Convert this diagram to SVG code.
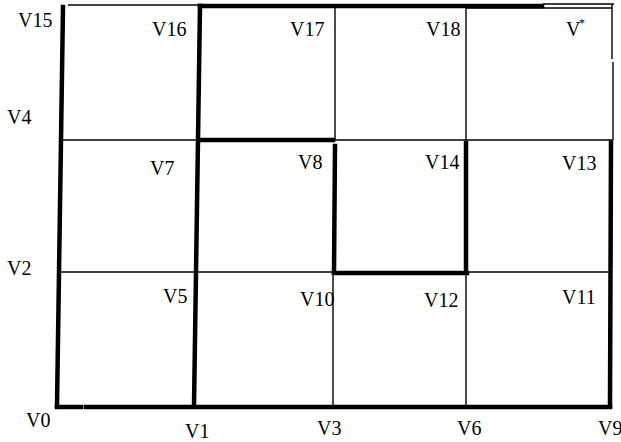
<svg xmlns="http://www.w3.org/2000/svg" width="621" height="442" viewBox="0 0 621 442">
<style>
text{font-family:'Liberation Serif','DejaVu Serif','Times New Roman',serif;fill:#000}
.t{font-size:20px}
.s{font-size:12px}
.thin{stroke:#000;stroke-width:1.4;fill:none}
.thick{stroke:#000;stroke-width:4.5;fill:none;stroke-linecap:square}
</style>
<rect width="621" height="442" fill="#fff"/>
<g id="connectors">
  <line class="thin" x1="68" y1="5" x2="200" y2="5"/>
  <line class="thin" x1="543" y1="4" x2="614" y2="4"/>
  <line class="thin" x1="466" y1="8" x2="612" y2="8"/>
  <line class="thin" x1="612" y1="4" x2="612" y2="59"/>
  <line class="thin" x1="613" y1="62" x2="613" y2="140"/>
  <line class="thin" x1="62" y1="140" x2="612" y2="140"/>
  <line class="thin" x1="61" y1="272" x2="612" y2="272"/>
  <line class="thin" x1="335" y1="5" x2="335" y2="140"/>
  <line class="thin" x1="333" y1="272" x2="333" y2="407"/>
  <line class="thin" x1="466" y1="5" x2="466" y2="140"/>
  <line class="thin" x1="466" y1="272" x2="466" y2="407"/>
  <line class="thick" x1="63" y1="7" x2="57" y2="406"/>
  <line class="thick" x1="57" y1="407" x2="81" y2="407"/>
  <line class="thick" x1="86" y1="407" x2="610" y2="407"/>
  <line class="thick" x1="611" y1="142" x2="610" y2="406"/>
  <line class="thick" x1="200" y1="6" x2="542" y2="6"/>
  <line class="thick" x1="200" y1="6" x2="194" y2="406"/>
  <line class="thick" x1="200" y1="140" x2="333" y2="140"/>
  <line class="thick" x1="335" y1="146" x2="334" y2="272"/>
  <line class="thick" x1="334" y1="273" x2="467" y2="273"/>
  <line class="thick" x1="466" y1="143" x2="466" y2="272"/>
</g>
<g id="V15"><text class="t" x="18" y="27">V15</text></g>
<g id="V16"><text class="t" x="152" y="36">V16</text></g>
<g id="V17"><text class="t" x="290" y="36">V17</text></g>
<g id="V18"><text class="t" x="426" y="36">V18</text></g>
<g id="Vstar"><text class="t" x="566" y="36">V</text><text class="s" x="579" y="27">*</text></g>
<g id="V4"><text class="t" x="7" y="124">V4</text></g>
<g id="V7"><text class="t" x="150" y="175">V7</text></g>
<g id="V8"><text class="t" x="298" y="169">V8</text></g>
<g id="V14"><text class="t" x="425" y="169">V14</text></g>
<g id="V13"><text class="t" x="562" y="170">V13</text></g>
<g id="V2"><text class="t" x="7" y="275">V2</text></g>
<g id="V5"><text class="t" x="163" y="303">V5</text></g>
<g id="V10"><text class="t" x="300" y="306">V10</text></g>
<g id="V12"><text class="t" x="424" y="307">V12</text></g>
<g id="V11"><text class="t" x="562" y="304">V11</text></g>
<g id="V0"><text class="t" x="26" y="427">V0</text></g>
<g id="V1"><text class="t" x="185" y="438">V1</text></g>
<g id="V3"><text class="t" x="317" y="435">V3</text></g>
<g id="V6"><text class="t" x="457" y="435">V6</text></g>
<g id="V9"><text class="t" x="598" y="435">V9</text></g>
</svg>
